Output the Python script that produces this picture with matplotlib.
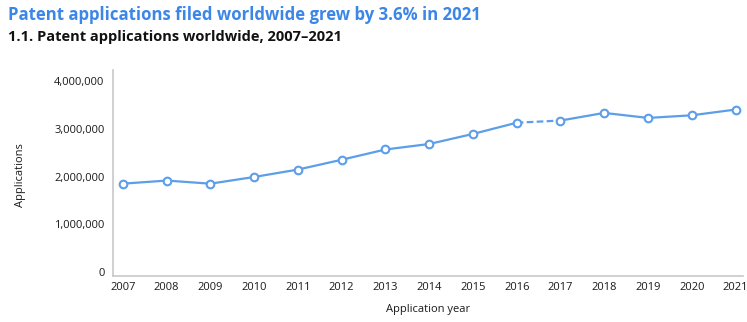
import matplotlib.pyplot as plt
from matplotlib.ticker import FuncFormatter

# Patent applications worldwide by year
years = [2007, 2008, 2009, 2010, 2011, 2012, 2013, 2014, 2015, 2016, 2017, 2018, 2019, 2020, 2021]
applications = [1850000, 1915000, 1850000, 1990000, 2145000, 2350000, 2565000, 2680000, 2890000,
                3125000, 3170000, 3330000, 3225000, 3280000, 3400000]
yticks = [0, 1000000, 2000000, 3000000, 4000000]

plt.rcParams['font.family'] = ['Open Sans', 'DejaVu Sans']
line_col = '#5c9ee8'

fig = plt.figure(figsize=(7.47, 3.22), dpi=100)
ax = fig.add_axes([0.151, 0.143, 0.843, 0.640])

# solid before 2016 and after 2017, dashed segment in between
ax.plot(years[:10], applications[:10], color=line_col, lw=1.6, zorder=2)
ax.plot(years[9:11], applications[9:11], color=line_col, lw=1.6, ls=(0, (3, 1.5)), zorder=2)
ax.plot(years[10:], applications[10:], color=line_col, lw=1.6, zorder=2)
ax.plot(years, applications, ls='none', marker='o', ms=5.5, mfc='white', mec=line_col, mew=1.5, zorder=3)

ax.set_xlim(2006.77, 2021.16)
ax.set_ylim(-80000, 4230000)
ax.set_xticks(years)
ax.set_yticks(yticks)
ax.yaxis.set_major_formatter(FuncFormatter(lambda v, p: f'{int(v):,}'))
ax.tick_params(length=0, labelsize=8, pad=6, colors='#1a1a1a')
ax.tick_params(axis='x', pad=4)

for s in ['top', 'right']:
    ax.spines[s].set_visible(False)
for s in ['left', 'bottom']:
    ax.spines[s].set_color('#c8c8c8')
    ax.spines[s].set_linewidth(1.2)

ax.set_xlabel('Application year', fontsize=8, color='#1a1a1a', labelpad=8)
fig.text(0.027, 0.455, 'Applications', rotation=90, fontsize=8, color='#1a1a1a', ha='center', va='center')

fig.text(0.011, 0.953, 'Patent applications filed worldwide grew by 3.6% in 2021',
         fontsize=12.1, fontweight='bold', color='#3b86e6', va='center')
fig.text(0.011, 0.885, '1.1. Patent applications worldwide, 2007\u20132021',
         fontsize=10.5, fontweight='bold', color='#111111', va='center')

fig.savefig('out.png', dpi=100)
